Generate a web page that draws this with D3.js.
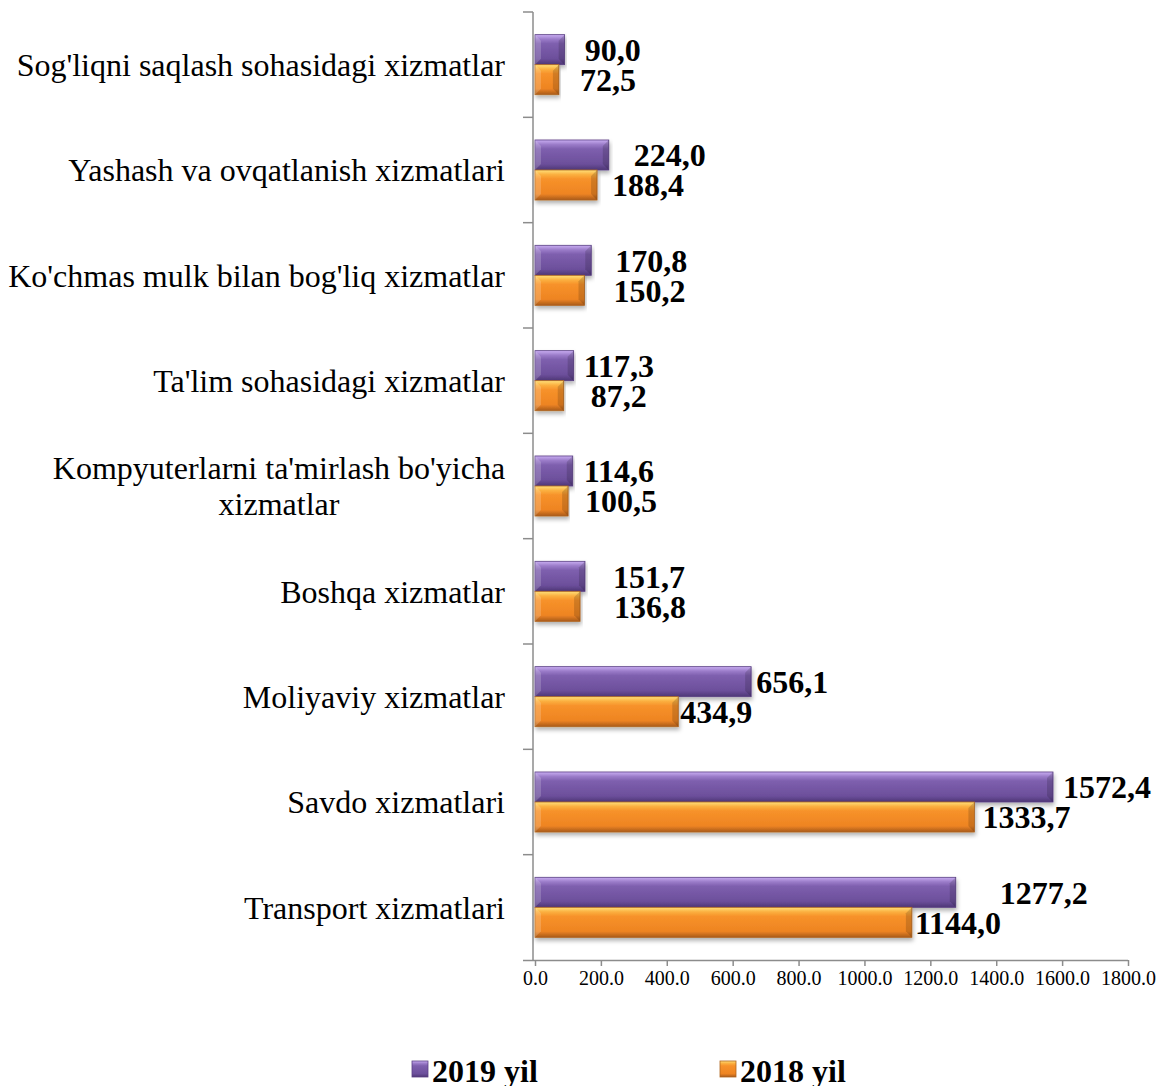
<!DOCTYPE html>
<html>
<head>
<meta charset="utf-8">
<script src="https://cdn.jsdelivr.net/npm/d3@7"></script>
<style>
  body { margin: 0; background: #fff; }
  svg { font-family: "Liberation Serif", "Times New Roman", serif; }
</style>
</head>
<body>
<div id="chart"></div>
<script>
const categories = [
  "Sog'liqni saqlash sohasidagi xizmatlar",
  "Yashash va ovqatlanish xizmatlari",
  "Ko'chmas mulk bilan bog'liq xizmatlar",
  "Ta'lim sohasidagi xizmatlar",
  "Kompyuterlarni ta'mirlash bo'yicha|xizmatlar",
  "Boshqa xizmatlar",
  "Moliyaviy xizmatlar",
  "Savdo xizmatlari",
  "Transport xizmatlari"
];
const values2019 = [90.0, 224.0, 170.8, 117.3, 114.6, 151.7, 656.1, 1572.4, 1277.2];
const values2018 = [72.5, 188.4, 150.2, 87.2, 100.5, 136.8, 434.9, 1333.7, 1144.0];
const seriesNames = ["2019 yil", "2018 yil"];
const xTicks = [0, 200, 400, 600, 800, 1000, 1200, 1400, 1600, 1800];

// manual label nudges (px after bar end), as placed in the original
const nudge2019 = [20, 25, 24, 10, 11, 28, 5, 10, 44];
const nudge2018 = [21, 15, 29, 27, 17, 34, 2, 8, 3];

const W = 1161, H = 1086;
const dims = { left: 535, right: 1128, top: 12, bottom: 960 };

const svg = d3.select("#chart").append("svg")
  .attr("width", W).attr("height", H);

const defs = svg.append("defs");
function grad(id, stops) {
  const g = defs.append("linearGradient").attr("id", id)
    .attr("x1", 0).attr("y1", 0).attr("x2", 0).attr("y2", 1);
  stops.forEach(([o, c]) => g.append("stop").attr("offset", o).attr("stop-color", c));
}
grad("gPurple", [[0, "#c9aef2"], [0.15, "#9b7cc9"], [0.3, "#7e5fae"], [0.8, "#6c4f9b"], [1, "#4e3676"]]);
grad("gOrange", [[0, "#ffe07a"], [0.15, "#fbb040"], [0.3, "#f7922a"], [0.8, "#ee8422"], [1, "#a85a1c"]]);
const sh = defs.append("filter").attr("id", "shadow")
  .attr("x", "-5%").attr("y", "-20%").attr("width", "110%").attr("height", "160%");
sh.append("feDropShadow").attr("dx", 1).attr("dy", 3).attr("stdDeviation", 2)
  .attr("flood-color", "#000").attr("flood-opacity", 0.3);

const fills = ["url(#gPurple)", "url(#gOrange)"];
const strokes = ["#5a3f84", "#b0651f"];

const x = d3.scaleLinear().domain([0, 1800]).range([dims.left, dims.right]);
const y = d3.scaleBand().domain(categories).range([dims.top, dims.bottom])
  .paddingInner(0.43).paddingOuter(0.215);
const ySub = d3.scaleBand().domain([0, 1]).range([0, y.bandwidth()]);
const step = y.step();

const fmt = v => d3.format(".1f")(v).replace(".", ",");

// axes
svg.append("line")
  .attr("x1", dims.left - 2).attr("x2", dims.left - 2)
  .attr("y1", dims.top).attr("y2", dims.bottom)
  .attr("stroke", "#8c8c8c").attr("stroke-width", 1.5);
d3.range(categories.length).forEach(i => {
  svg.append("line")
    .attr("x1", dims.left - 12).attr("x2", dims.left - 2)
    .attr("y1", dims.top + i * step).attr("y2", dims.top + i * step)
    .attr("stroke", "#8c8c8c").attr("stroke-width", 1.5);
});

const xAxis = svg.append("g")
  .attr("transform", `translate(0,${dims.bottom})`)
  .call(d3.axisBottom(x).tickValues(xTicks).tickSize(6).tickPadding(5)
    .tickFormat(d3.format(".1f")));
xAxis.select(".domain").attr("stroke", "#8c8c8c").attr("stroke-width", 1.5)
  .attr("d", `M${dims.left - 12},0.5H${dims.right}`);
xAxis.selectAll(".tick line").attr("stroke", "#8c8c8c").attr("stroke-width", 1.5);
xAxis.selectAll(".tick text").attr("font-size", 20).attr("fill", "#000")
  .attr("font-family", "Liberation Serif, Times New Roman, serif");

// category labels
categories.forEach(c => {
  const lines = c.split("|");
  const cy = y(c) + y.bandwidth() / 2;
  const t = svg.append("text")
    .attr("font-size", 32).attr("fill", "#000");
  if (lines.length === 1) {
    t.attr("x", 505).attr("y", cy).attr("dy", "0.35em")
      .attr("text-anchor", "end").text(c);
  } else {
    t.attr("text-anchor", "middle");
    lines.forEach((l, k) => {
      t.append("tspan").attr("x", 279)
        .attr("y", cy + (k - (lines.length - 1) / 2) * 36)
        .attr("dy", "0.35em").text(l);
    });
  }
});

// bars
const seriesData = [values2019, values2018];
const nudges = [nudge2019, nudge2018];
const bev = 6;
seriesData.forEach((vals, s) => {
  const g = svg.append("g");
  const bars = g.selectAll("g.bar")
    .data(vals)
    .join("g")
      .attr("class", "bar")
      .attr("transform", (d, i) => `translate(${x(0)},${y(categories[i]) + ySub(s)})`);
  bars.append("rect")
      .attr("width", d => x(d) - x(0))
      .attr("height", ySub.bandwidth())
      .attr("fill", fills[s])
      .attr("stroke", strokes[s])
      .attr("stroke-width", 0.8)
      .attr("filter", "url(#shadow)");
  const h = ySub.bandwidth();
  // bevel at both ends
  bars.append("path")
      .attr("d", `M0,0L${bev},${bev}L${bev},${h - bev}L0,${h}Z`)
      .attr("fill", "#fff").attr("opacity", 0.18);
  bars.append("path")
      .attr("d", d => {
        const w = x(d) - x(0);
        return `M${w},0L${w - bev},${bev}L${w - bev},${h - bev}L${w},${h}Z`;
      })
      .attr("fill", "#000").attr("opacity", 0.15);
  svg.append("g").selectAll("text")
    .data(vals)
    .join("text")
      .attr("x", (d, i) => x(d) + nudges[s][i])
      .attr("y", (d, i) => y(categories[i]) + ySub(s) + ySub.bandwidth() / 2)
      .attr("dy", "0.35em")
      .attr("font-size", 32).attr("font-weight", "bold").attr("fill", "#000")
      .text(d => fmt(d));
});

// legend
const legendX = [412, 720];
seriesNames.forEach((n, s) => {
  const lg = svg.append("g").attr("transform", `translate(${legendX[s]},1071)`);
  lg.append("rect").attr("x", 0).attr("y", -10).attr("width", 16).attr("height", 16)
    .attr("fill", fills[s]).attr("stroke", strokes[s]).attr("stroke-width", 0.8);
  lg.append("text").attr("x", 20).attr("y", 0).attr("dy", "0.35em")
    .attr("font-size", 32).attr("font-weight", "bold").text(n);
});
</script>
</body>
</html>
